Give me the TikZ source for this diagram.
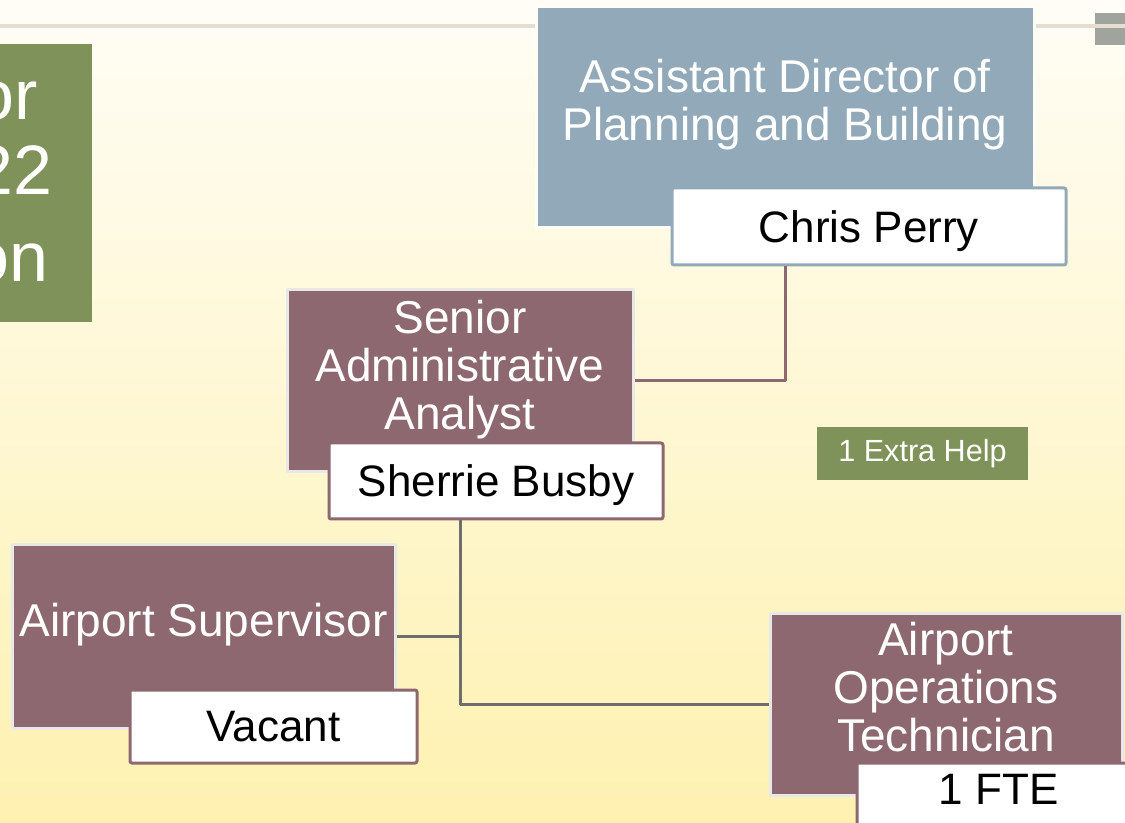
\documentclass[tikz,border=0pt]{standalone}
\usepackage{fontspec}
\setmainfont{Liberation Sans}
\definecolor{mauve}{HTML}{8E6871}
\definecolor{slate}{HTML}{92A9B9}
\definecolor{olive}{HTML}{7F925A}
\definecolor{rulecol}{HTML}{E5DDD1}
\definecolor{wire}{HTML}{6E6E6E}
\definecolor{cream}{HTML}{FFFDF6}
\definecolor{sand}{HTML}{FEF1B0}
\tikzset{
	post/.style={rectangle, fill=mauve, draw=black!9, line width=1.5pt},
	title/.style={text=white, align=center, inner sep=0pt, font=\fontsize{23}{24}\selectfont},
	holder/.style={rectangle, fill=white, draw=mauve, line width=1.5pt, rounded corners=1pt, font=\fontsize{22}{24}\selectfont, text depth=0pt},
	frag/.style={text=white, inner sep=0pt, anchor=base east, font=\fontsize{35}{40}\selectfont}
}
\begin{document}
\begin{tikzpicture}[x=0.5pt, y=-0.5pt, line join=round]
	\useasboundingbox (0,0) rectangle (1125,823);
	\clip (0,0) rectangle (1125,823);
	\shade[top color=cream, bottom color=sand] (0,0) rectangle (1125,823);
	\fill[black!20!olive!25!gray!70] (1095,13) rectangle (1125,45);
	\draw[rulecol, line width=2pt] (0,26) -- (1125,26);
	
	% heading box, cut at the left edge
	\node[fill=olive, minimum width=56pt, minimum height=139pt] (head) at (36,183) {};
	\foreach \t/\x/\y in {or/38/120, 22/53/195, on/49/282}
	\node[frag] (head-\t) at (\x,\y) {\t};
	
	\node[post, fill=slate, draw=cream, minimum width=249pt, minimum height=110.5pt] (dir) at (785,117.5) {};
	\node[title] (dirT) at (785,104.5) {Assistant Director of\\Planning and Building};
	\node[holder, draw=slate, minimum width=197pt, minimum height=38.5pt] (chris) at (869,226.5) {Chris Perry};
	
	\node[post, minimum width=173pt, minimum height=91pt] (senior) at (460,381) {};
	\node[title] (seniorT) at (460,369.5) {Senior\\Administrative\\Analyst};
	\node[holder, minimum width=167pt, minimum height=38pt] (sherrie) at (496,481) {Sherrie Busby};
	
	\node[post, minimum width=191.5pt, minimum height=91.5pt] (super) at (203.5,636.5) {};
	\node[title] (superT) at (203.5,624.5) {Airport Supervisor};
	\node[holder, minimum width=143.5pt, minimum height=36.5pt] (vacant) at (273.5,726.5) {Vacant};
	
	\node[post, minimum width=176pt, minimum height=91pt] (tech) at (946,704) {};
	\node[title] (techT) at (946,687) {Airport\\Operations\\Technician};
	\node[holder, minimum width=141.5pt, minimum height=39pt, text depth=13pt] (fte) at (998.5,802) {1 FTE};
	
	\node[fill=olive, text=white, minimum width=105.5pt, minimum height=26.5pt, font=\fontsize{15.3}{18}\selectfont] (extra) at (922.5,453.5) {1 Extra Help\hspace{4pt}};
	
	\draw[mauve, line width=1.5pt] (dir.center |- chris.south) |- (senior.east);
	\draw[wire, line width=1.5pt] (senior.center |- sherrie.south) |- (tech.west)
	(super.east) -- (super.east -| senior.center);
	
\end{tikzpicture}
\end{document}
